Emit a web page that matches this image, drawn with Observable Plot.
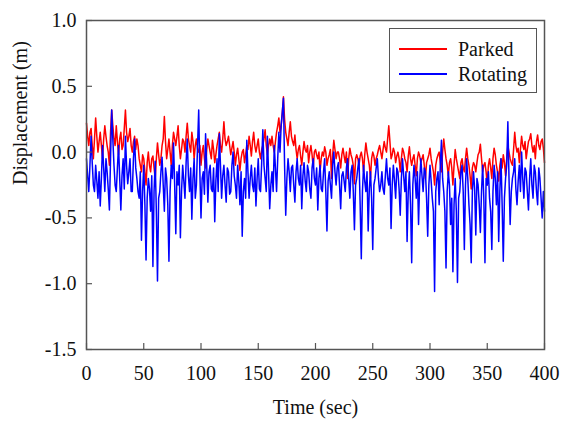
<!DOCTYPE html>
<html>
<head>
<meta charset="utf-8">
<script src="https://cdn.jsdelivr.net/npm/d3@7"></script>
<script src="https://cdn.jsdelivr.net/npm/@observablehq/plot@0.6"></script>
<style>
  html, body { margin: 0; padding: 0; background: #fff; }
  #wrap { position: relative; width: 562px; height: 421px; font-family: "Liberation Serif", "DejaVu Serif", serif; }
  #wrap svg, #wrap svg text { font-family: "Liberation Serif", "DejaVu Serif", serif !important; }
  #legend { position: absolute; left: 389px; top: 28px; width: 148px; height: 65px; border: 1.5px solid #555; background: #fff; box-sizing: border-box; }
  .row { position: absolute; left: 0; height: 20px; display: flex; align-items: center; font-size: 20px; color: #111; white-space: nowrap; }
  .sw { display: inline-block; width: 48px; height: 0; border-top: 2px solid; margin-left: 9px; margin-right: 11px; }
</style>
</head>
<body>
<div id="wrap"></div>
<script>
// Sampling times (sec), one sample per second
const time = d3.range(0, 401, 1);

// Parked displacement (m), 20 samples per row
const parked = [
  0.22,0.12,0.05,0.15,0.18,0.05,-0.05,0.10,0.26,0.12,0.00,0.08,0.15,0.05,-0.05,0.10,0.20,0.12,0.05,0.00,
  -0.10,0.15,0.32,0.20,0.10,0.05,0.20,0.08,-0.02,0.10,0.15,0.02,0.05,0.18,0.32,0.15,0.08,0.12,0.18,0.05,
  0.00,0.08,0.12,0.02,0.10,0.05,-0.05,-0.10,-0.15,-0.02,-0.05,-0.15,-0.25,-0.08,0.00,-0.10,-0.15,-0.05,-0.03,-0.12,
  -0.20,-0.05,0.07,-0.02,-0.10,-0.05,0.05,0.10,0.27,0.08,-0.05,0.02,0.10,0.00,-0.10,0.05,0.15,0.10,0.05,0.12,
  0.20,0.05,-0.05,0.02,0.10,0.08,0.00,0.12,0.22,0.10,0.05,0.00,0.15,0.08,-0.05,0.05,0.10,0.02,0.00,0.05,
  -0.10,0.00,0.05,-0.05,-0.12,0.02,0.10,0.05,0.00,-0.05,0.09,0.02,-0.08,-0.02,0.05,0.10,0.15,0.05,0.00,0.10,
  0.23,0.10,0.05,0.08,0.12,0.05,-0.02,0.03,0.08,0.00,-0.10,-0.02,0.03,-0.05,-0.14,-0.05,0.00,0.02,-0.08,-0.02,
  0.05,0.02,0.12,0.05,-0.03,0.08,0.15,0.05,0.00,0.05,0.10,0.00,-0.05,0.02,0.05,0.10,0.17,0.05,-0.02,0.05,
  0.10,0.05,0.12,0.05,0.00,0.08,0.15,0.20,0.26,0.15,0.20,0.30,0.42,0.25,0.15,0.10,0.05,0.15,0.23,0.12,
  0.08,0.05,0.13,0.02,-0.05,0.02,0.05,-0.03,-0.10,0.00,0.08,0.02,0.00,0.05,-0.08,0.00,0.05,-0.02,-0.12,0.00,
  0.02,-0.02,-0.05,0.00,-0.15,-0.05,0.00,-0.03,0.04,0.00,-0.10,-0.05,-0.02,0.02,-0.20,-0.02,0.09,0.02,-0.05,0.00,
  0.00,-0.05,-0.12,-0.02,0.03,-0.03,-0.08,0.00,-0.20,-0.05,0.03,-0.02,-0.05,-0.10,-0.24,-0.05,-0.02,-0.05,-0.10,-0.03,
  0.00,-0.05,-0.15,-0.02,0.07,0.00,-0.05,-0.10,-0.20,-0.05,0.00,-0.03,-0.10,-0.05,-0.02,0.02,0.05,0.00,-0.05,0.02,
  0.08,0.03,0.00,0.10,0.20,0.08,-0.05,-0.02,0.03,0.00,-0.08,-0.03,0.00,-0.05,-0.15,-0.05,0.03,0.00,-0.05,-0.08,
  -0.15,-0.03,0.04,-0.05,-0.10,-0.05,-0.02,-0.10,-0.18,-0.05,0.00,-0.03,-0.08,-0.05,-0.02,-0.10,-0.20,-0.08,-0.05,-0.02,
  0.03,-0.05,-0.10,-0.15,-0.25,-0.10,-0.05,-0.02,0.00,-0.08,-0.15,0.00,0.10,0.02,-0.05,-0.10,-0.18,-0.08,-0.05,-0.12,
  -0.25,-0.10,0.02,-0.05,-0.10,-0.15,-0.20,-0.08,-0.05,-0.12,-0.15,-0.05,0.03,-0.05,-0.10,-0.18,-0.28,-0.12,-0.08,-0.10,
  -0.15,-0.08,-0.02,0.00,0.06,-0.05,-0.15,-0.10,-0.08,-0.15,-0.25,-0.10,-0.05,-0.12,-0.20,-0.05,0.03,-0.02,-0.10,-0.15,
  -0.22,-0.10,-0.05,-0.12,-0.02,-0.08,-0.18,-0.05,0.05,0.00,-0.05,-0.08,-0.10,0.02,0.15,0.05,0.00,0.03,-0.08,0.02,
  0.12,0.05,0.02,0.08,-0.05,0.02,0.08,0.10,0.14,0.05,0.00,0.05,-0.05,0.08,0.13,0.05,0.02,0.08,0.10,0.03,
  -0.08
];

// Rotating displacement (m), 20 samples per row
const rotating = [
  -0.05,-0.18,-0.30,-0.10,0.12,-0.08,-0.25,-0.30,-0.10,-0.22,-0.35,-0.15,-0.41,-0.20,0.05,-0.12,-0.30,-0.05,-0.15,-0.28,
  -0.44,-0.05,0.32,0.10,-0.10,-0.25,-0.30,-0.12,0.05,-0.20,-0.44,-0.18,-0.05,-0.28,0.12,-0.10,-0.24,-0.15,-0.05,-0.30,
  -0.30,-0.05,0.10,-0.12,-0.20,-0.30,-0.35,-0.15,-0.67,-0.30,-0.10,-0.40,-0.82,-0.35,-0.20,-0.28,-0.45,-0.18,-0.87,-0.30,
  -0.07,-0.45,-0.98,-0.35,-0.30,-0.15,-0.04,-0.25,-0.45,-0.12,-0.20,-0.40,-0.83,-0.30,-0.10,-0.20,0.07,-0.25,-0.62,-0.15,
  -0.25,-0.10,-0.65,-0.30,-0.10,-0.22,-0.35,-0.08,0.10,-0.18,-0.30,-0.12,-0.51,-0.20,-0.05,-0.35,-0.25,0.05,0.32,-0.15,
  -0.50,-0.20,-0.15,-0.32,0.14,-0.10,-0.38,-0.15,-0.10,-0.28,-0.30,-0.12,-0.53,-0.22,-0.05,-0.30,0.14,-0.10,-0.35,-0.18,
  -0.10,-0.25,-0.38,-0.12,-0.15,-0.32,-0.30,-0.10,0.00,-0.18,-0.25,-0.35,-0.10,-0.22,-0.40,-0.15,-0.64,-0.30,-0.20,-0.35,
  0.09,-0.15,-0.35,-0.20,-0.10,-0.25,-0.30,-0.12,-0.41,-0.20,-0.05,-0.28,-0.30,-0.08,0.17,-0.10,-0.20,-0.30,0.12,-0.15,
  -0.43,-0.25,-0.15,-0.30,0.05,-0.12,-0.30,-0.05,0.15,0.00,0.20,0.30,0.41,-0.10,-0.48,-0.20,-0.05,-0.15,-0.30,-0.12,
  -0.10,-0.25,-0.38,-0.15,-0.05,-0.20,-0.25,-0.10,-0.43,-0.18,-0.08,-0.22,-0.30,-0.10,-0.15,-0.28,-0.35,-0.12,-0.05,-0.20,
  -0.25,-0.12,-0.44,-0.20,-0.10,-0.28,-0.30,-0.15,-0.05,-0.30,-0.60,-0.22,-0.15,-0.25,-0.35,-0.10,0.00,-0.15,-0.25,-0.12,
  -0.08,-0.25,-0.43,-0.18,-0.15,-0.22,-0.30,-0.12,-0.05,-0.20,-0.35,-0.15,-0.10,-0.30,-0.59,-0.25,-0.20,-0.12,-0.05,-0.40,
  -0.81,-0.30,-0.10,-0.22,-0.30,-0.15,-0.60,-0.28,-0.15,-0.35,-0.74,-0.25,-0.20,-0.12,-0.05,-0.20,-0.30,-0.25,-0.15,-0.28,
  -0.32,-0.18,-0.05,-0.20,-0.25,-0.12,-0.58,-0.25,-0.10,-0.22,-0.35,-0.12,-0.15,-0.28,-0.48,-0.20,-0.05,-0.18,-0.30,-0.15,
  -0.68,-0.30,-0.15,-0.40,-0.84,-0.25,-0.10,-0.20,-0.35,-0.15,-0.55,-0.22,-0.05,-0.18,-0.30,-0.12,-0.15,-0.35,-0.64,-0.25,
  -0.10,-0.22,-0.35,-0.45,-1.06,-0.30,-0.20,-0.15,-0.40,-0.10,0.09,-0.20,-0.30,-0.45,-0.88,-0.30,-0.15,-0.25,-0.55,-0.35,
  -0.91,-0.40,-0.20,-0.45,-0.99,-0.35,-0.30,-0.15,-0.10,-0.30,-0.74,-0.25,-0.05,-0.20,-0.40,-0.55,-0.84,-0.30,-0.15,-0.28,
  -0.63,-0.20,-0.25,-0.40,-0.61,-0.30,-0.10,-0.35,-0.84,-0.20,-0.25,-0.15,-0.35,-0.45,-0.74,-0.30,-0.10,-0.20,-0.40,-0.15,
  -0.68,-0.30,-0.05,-0.40,-0.83,-0.35,-0.20,-0.10,0.23,-0.20,-0.55,-0.30,-0.20,-0.15,-0.05,-0.28,-0.40,-0.22,-0.10,-0.30,
  0.00,-0.20,-0.35,-0.12,-0.15,-0.30,-0.44,-0.20,-0.05,-0.25,-0.35,-0.10,-0.15,-0.30,-0.40,-0.12,-0.20,-0.35,-0.50,-0.30,
  -0.45
];

const xTicks = [0, 50, 100, 150, 200, 250, 300, 350, 400];
const yTicks = [1.0, 0.5, 0.0, -0.5, -1.0, -1.5];
const seriesNames = ["Parked", "Rotating"];
const seriesColors = ["#ff0000", "#0000ff"];

const parkedData = parked.map((v, i) => ({t: time[i], v}));
const rotatingData = rotating.map((v, i) => ({t: time[i], v}));

const W = 562, H = 421;
const mL = 86, mR = 18, mT = 20, mB = 72;
const innerW = W - mL - mR, innerH = H - mT - mB;
const font = "'Liberation Serif', 'DejaVu Serif', serif";

const chart = Plot.plot({
  width: W, height: H,
  marginLeft: mL, marginRight: mR, marginTop: mT, marginBottom: mB,
  style: {fontFamily: font, fontSize: "20px", background: "#fff", color: "#111"},
  x: {domain: [0, 400]},
  y: {domain: [-1.5, 1.0]},
  marks: [
    Plot.line(parkedData, {x: "t", y: "v", stroke: seriesColors[0], strokeWidth: 1.5}),
    Plot.line(rotatingData, {x: "t", y: "v", stroke: seriesColors[1], strokeWidth: 1.5}),
    Plot.tickX(xTicks, {x: d => d, stroke: "#555", strokeWidth: 1.2, insetTop: innerH - 6}),
    Plot.tickY(yTicks, {y: d => d, stroke: "#555", strokeWidth: 1.2, insetRight: innerW - 6}),
    Plot.frame({stroke: "#555", strokeWidth: 1.5}),
    Plot.axisX({ticks: xTicks, tickSize: 0, tickPadding: 16, fontSize: 20, label: null, tickFormat: d => String(d)}),
    Plot.axisY({ticks: yTicks, tickSize: 0, tickPadding: 10, fontSize: 20, label: null, tickFormat: d => d.toFixed(1)}),
    Plot.text(["Time (sec)"], {frameAnchor: "bottom", dy: 58, fontSize: 20, lineAnchor: "middle", fill: "#111"}),
    Plot.text(["Displacement (m)"], {frameAnchor: "left", dx: -66, rotate: -90, fontSize: 20, lineAnchor: "middle", fill: "#111"})
  ]
});

const wrap = document.getElementById("wrap");
wrap.appendChild(chart);

const legend = document.createElement("div");
legend.id = "legend";
seriesNames.forEach((name, i) => {
  const row = document.createElement("div");
  row.className = "row";
  row.style.top = (i === 0 ? 10 : 35) + "px";
  const sw = document.createElement("span");
  sw.className = "sw";
  sw.style.borderTopColor = seriesColors[i];
  const label = document.createElement("span");
  label.textContent = name;
  row.appendChild(sw);
  row.appendChild(label);
  legend.appendChild(row);
});
wrap.appendChild(legend);
</script>
</body>
</html>
